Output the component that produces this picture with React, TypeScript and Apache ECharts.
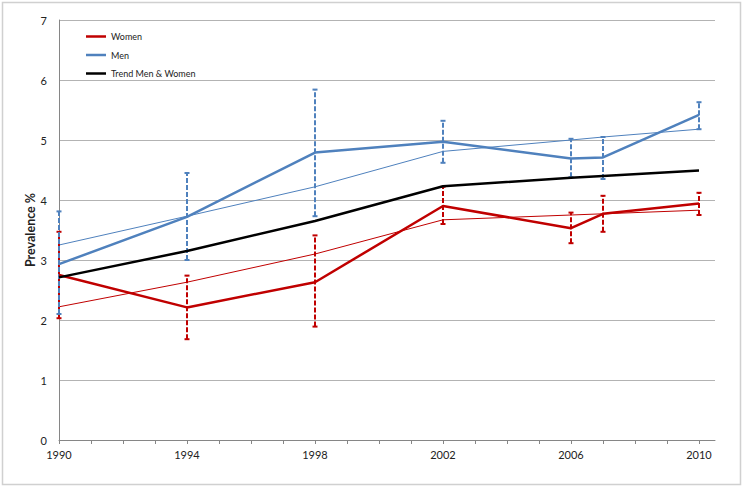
import React, { useEffect, useRef } from "react";
import * as echarts from "echarts";

const years = [1990, 1994, 1998, 2002, 2006, 2007, 2010];
const womenValues = [2.75, 2.21, 2.63, 3.9, 3.53, 3.77, 3.94];
const womenLower = [2.03, 1.68, 1.89, 3.6, 3.28, 3.47, 3.75];
const womenUpper = [3.47, 2.74, 3.41, 4.22, 3.79, 4.07, 4.12];
const womenTrend = [2.22, 2.63, 3.1, 3.67, 3.75, 3.77, 3.83];
const menValues = [2.93, 3.72, 4.79, 4.97, 4.69, 4.71, 5.42];
const menLower = [2.1, 3.0, 3.73, 4.62, 4.38, 4.35, 5.18];
const menUpper = [3.81, 4.45, 5.84, 5.32, 5.02, 5.05, 5.63];
const menTrend = [3.25, 3.73, 4.22, 4.81, 5.0, 5.05, 5.18];
const totalTrend = [2.71, 3.15, 3.65, 4.23, 4.37, 4.4, 4.49];
const tickYears = [1990, 1991, 1992, 1993, 1994, 1995, 1996, 1997, 1998, 1999, 2000, 2001, 2002, 2003, 2004, 2005, 2006, 2007, 2008, 2009, 2010];
const labelYears = [1990, 1994, 1998, 2002, 2006, 2010];
const legendNames = ["Women", "Men", "Trend Men & Women"];

const WOMEN = "#C00000";
const MEN = "#4F81BD";
const FONT = "Lato, 'Liberation Sans', sans-serif";
const LINE_ICON = "path://M0,0 L20,0 L20,2.5 L0,2.5 Z";

const pairs = (vals: number[]) => years.map((y, i) => [y, vals[i]]);

function errorSeries(name: string, color: string, lower: number[], upper: number[]) {
  return {
    type: "custom",
    name,
    data: years.map((y, i) => [y, lower[i], upper[i]]),
    encode: { x: 0, y: [1, 2] },
    z: 4,
    renderItem: (params: any, api: any) => {
      const x = api.value(0);
      const lo = api.coord([x, api.value(1)]);
      const hi = api.coord([x, api.value(2)]);
      const cap = 2.5;
      const style = { stroke: color, lineWidth: 2, fill: "none" };
      return {
        type: "group",
        children: [
          { type: "line", shape: { x1: lo[0], y1: lo[1], x2: hi[0], y2: hi[1] }, style: { ...style, lineDash: [5, 2] } },
          { type: "line", shape: { x1: lo[0] - cap, y1: lo[1], x2: lo[0] + cap, y2: lo[1] }, style },
          { type: "line", shape: { x1: hi[0] - cap, y1: hi[1], x2: hi[0] + cap, y2: hi[1] }, style },
        ],
      };
    },
  };
}

function lineSeries(name: string, color: string, vals: number[], width: number, z: number) {
  return {
    type: "line",
    name,
    data: pairs(vals),
    showSymbol: false,
    symbol: "none",
    lineStyle: { color, width },
    itemStyle: { color },
    z,
  };
}

export default function App() {
  const ref = useRef<HTMLDivElement>(null);
  useEffect(() => {
    if (!ref.current) return;
    const chart = echarts.init(ref.current, undefined, { renderer: "svg" });
    chart.setOption({
      animation: false,
      backgroundColor: "#ffffff",
      textStyle: { fontFamily: FONT },
      graphic: [
        {
          type: "rect",
          shape: { x: 2.5, y: 2.5, width: 738, height: 482 },
          style: { fill: "none", stroke: "#d0d0d0", lineWidth: 1.5 },
          silent: true,
        },
      ],
      grid: { left: 59, top: 20, right: 28, bottom: 47 },
      legend: {
        data: legendNames.map((n) => ({ name: n, icon: LINE_ICON })),
        orient: "vertical",
        left: 81,
        top: 27,
        itemWidth: 20,
        itemHeight: 10,
        itemGap: 9.5,
        textStyle: { fontSize: 9, color: "#222", fontFamily: FONT },
      },
      xAxis: {
        type: "value",
        min: 1990,
        max: 2010.5,
        axisLine: { show: true, lineStyle: { color: "#868686", width: 1 } },
        axisTick: { show: true, length: 4, customValues: tickYears, lineStyle: { color: "#868686" } },
        axisLabel: {
          customValues: labelYears,
          fontSize: 11,
          color: "#222",
          margin: 9,
          fontFamily: FONT,
          formatter: (v: number) => String(v),
        },
        splitLine: { show: false },
      },
      yAxis: {
        type: "value",
        min: 0,
        max: 7,
        interval: 1,
        name: "Prevalence %",
        nameLocation: "middle",
        nameGap: 22,
        nameMoveOverlap: false,
        nameTextStyle: { fontSize: 12.5, fontWeight: "bold", color: "#222", fontFamily: FONT },
        axisLine: { show: true, lineStyle: { color: "#868686", width: 1 } },
        axisTick: { show: false },
        axisLabel: { fontSize: 11, color: "#222", margin: 12, fontFamily: FONT },
        splitLine: { show: true, lineStyle: { color: "#b3b3b3", width: 1 } },
      },
      series: [
        lineSeries("Women trend", WOMEN, womenTrend, 1, 2),
        lineSeries("Men trend", MEN, menTrend, 1, 2),
        errorSeries("Women error", WOMEN, womenLower, womenUpper),
        errorSeries("Men error", MEN, menLower, menUpper),
        lineSeries("Women", WOMEN, womenValues, 2.5, 5),
        lineSeries("Men", MEN, menValues, 2.5, 5),
        lineSeries("Trend Men & Women", "#000000", totalTrend, 2.5, 5),
      ],
    });
    return () => chart.dispose();
  }, []);
  return (
    <div
      ref={ref}
      style={{ position: "absolute", left: 0, top: 0, width: 743, height: 487 }}
    />
  );
}
